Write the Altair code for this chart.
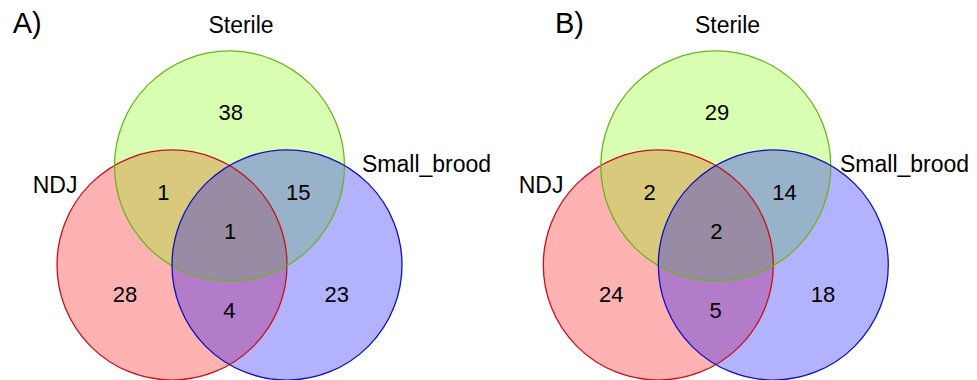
import altair as alt
import pandas as pd

# ---- values ----
panels = ["A)", "B)"]
set_names = ["NDJ", "Sterile", "Small_brood"]
regions = ["NDJ", "Sterile", "Small_brood", "NDJ&Sterile",
           "Sterile&Small_brood", "NDJ&Small_brood", "All"]
counts_A = [28, 38, 23, 1, 15, 4, 1]
counts_B = [24, 29, 18, 2, 14, 5, 2]
counts = [counts_A, counts_B]

# ---- styles / layout (pixel coordinates of the picture) ----
fill_colors = ["#ff0000", "#7fff00", "#0000ff"]
stroke_colors = ["#c8101c", "#6cb41e", "#1010bc"]
radius = 115
panel_dx = [0, 486.3]
circle_cx = [172, 229.5, 287]
circle_cy = [265, 166, 265]
region_x = [125, 230.8, 336.7, 163.3, 298.3, 229.3, 230]
region_y = [301.7, 120, 301.7, 200, 200, 317.7, 239.3]
label_x = [[32.7, 241, 362], [518.7, 727.5, 840]]
label_y = [193.3, 33.3, 172.3]
label_align = ["left", "center", "left"]
title_x = [12.7, 555]
title_y = 33.3

circ_rows, num_rows, lab_rows = [], [], []
for p, pname in enumerate(panels):
    for i, s in enumerate(set_names):
        circ_rows.append(dict(panel=pname, set=s, order=p * 3 + i,
                              x=circle_cx[i] + panel_dx[p], y=circle_cy[i],
                              fill=fill_colors[i], stroke=stroke_colors[i]))
        lab_rows.append(dict(text=s, x=label_x[p][i], y=label_y[i],
                             align=label_align[i], size=23))
    for j, r in enumerate(regions):
        num_rows.append(dict(panel=pname, region=r, n=str(counts[p][j]),
                             x=region_x[j] + panel_dx[p], y=region_y[j]))
    lab_rows.append(dict(text=pname, x=title_x[p], y=title_y,
                         align="left", size=29))

circ = pd.DataFrame(circ_rows)
nums = pd.DataFrame(num_rows)
labs = pd.DataFrame(lab_rows)

W, H = 961, 372
xs = alt.Scale(domain=[8, 8 + W], nice=False, zero=False)
ys = alt.Scale(domain=[8, 8 + H], nice=False, zero=False, reverse=True)
X = lambda: alt.X("x:Q", scale=xs, axis=None)
Y = lambda: alt.Y("y:Q", scale=ys, axis=None)

# Vega's circle symbol has radius sqrt(size)/2
size = (2 * radius) ** 2
font = "Liberation Sans"

fills = alt.Chart(circ).mark_point(shape="circle", filled=True, size=size,
                                   fillOpacity=0.3, strokeWidth=0).encode(
    x=X(), y=Y(), fill=alt.Fill("fill:N", scale=None), order="order:Q")

strokes = alt.Chart(circ).mark_point(shape="circle", filled=False, size=size,
                                     strokeWidth=1.3, opacity=1).encode(
    x=X(), y=Y(), stroke=alt.Stroke("stroke:N", scale=None), order="order:Q")

numbers = alt.Chart(nums).mark_text(font=font, fontSize=22, align="center",
                                    baseline="alphabetic", color="black").encode(
    x=X(), y=Y(), text="n:N")

lab_center = alt.Chart(labs[labs["align"] == "center"]).mark_text(
    font=font, align="center", baseline="alphabetic", color="black").encode(
    x=X(), y=Y(), text="text:N", size=alt.Size("size:Q", scale=None))

lab_left = alt.Chart(labs[labs["align"] == "left"]).mark_text(
    font=font, align="left", baseline="alphabetic", color="black").encode(
    x=X(), y=Y(), text="text:N", size=alt.Size("size:Q", scale=None))

chart = alt.layer(fills, strokes, numbers, lab_center, lab_left).properties(
    width=W, height=H, padding=0, autosize=alt.AutoSizeParams(type="none"),
    background="white"
).configure_view(stroke=None)

chart.save("out.html", embed_options={"renderer": "svg", "actions": False})
